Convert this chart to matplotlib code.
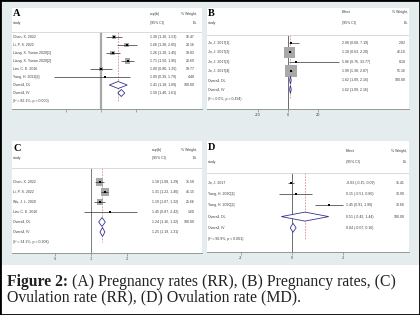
import numpy as np
import matplotlib
matplotlib.use("Agg")
import matplotlib.pyplot as plt
import matplotlib.transforms as mtransforms
from matplotlib.patches import Polygon, Rectangle
from matplotlib.ticker import NullLocator

# ---------------- data ----------------
A_studies = ["Chen, X. 2022", "Li, P. S. 2022", "Liang, X. Yunan 2020[1]",
             "Liang, X. Yunan 2020[2]", "Lim, C. E. 2016", "Yang, H. 2022[2]"]
A_est = [1.30, 1.68, 1.26, 1.71, 1.00, 1.09]
A_lo = [1.10, 1.38, 1.10, 1.50, 0.80, 0.39]
A_hi = [1.53, 2.05, 1.45, 1.95, 1.25, 1.79]
A_w = [16.47, 20.16, 19.83, 20.69, 18.77, 4.48]
A_dl = [1.41, 1.18, 1.69]
A_iv = [1.50, 1.40, 1.61]
A_het = "(I\u00b2 = 82.1%, p = 0.000)"

B_studies = ["Jo, J. 2017[1]", "Jo, J. 2017[2]", "Jo, J. 2017[3]", "Jo, J. 2017[4]"]
B_est = [2.08, 1.18, 5.06, 1.99]
B_lo = [0.60, 0.63, 0.76, 1.38]
B_hi = [7.19, 2.20, 33.77, 2.87]
B_w = [2.82, 46.10, 0.10, 51.16]
B_dl = [1.62, 1.09, 2.16]
B_iv = [1.62, 1.09, 2.16]
B_het = "(I\u00b2 = 0.0%, p = 0.494)"

C_studies = ["Chen, X. 2022", "Li, P. S. 2022", "Wu, J. L. 2020", "Lim, C. E. 2016"]
C_est = [1.18, 1.31, 1.19, 1.45]
C_lo = [1.08, 1.22, 1.07, 0.87]
C_hi = [1.29, 1.40, 1.32, 2.42]
C_w = [31.58, 41.15, 25.66, 1.60]
C_dl = [1.24, 1.16, 1.32]
C_iv = [1.25, 1.19, 1.31]
C_het = "(I\u00b2 = 34.1%, p = 0.208)"

D_studies = ["Jo, J. 2017", "Yang, H. 2020[1]", "Yang, H. 2020[2]"]
D_est = [-0.03, 0.15, 1.45]
D_lo = [-0.15, -0.51, 0.91]
D_hi = [0.09, 0.80, 1.99]
D_w = [36.41, 30.99, 32.60]
D_dl = [0.51, -0.42, 1.44]
D_iv = [0.04, -0.07, 0.16]
D_het = "(I\u00b2 = 90.9%, p < 0.001)"

A_ticks, A_ticklabels = [0.5, 1, 2], ["", "", ""]
B_ticks, B_ticklabels = [-20, 0, 20], ["-20", "0", "20"]
C_ticks, C_ticklabels = [0.5, 1, 2], [".5", "1", "2"]
D_ticks, D_ticklabels = [-2, 0, 2], ["-2", "0", "2"]

caption_bold = "Figure 2:"
caption_line1 = " (A) Pregnancy rates (RR), (B) Pregnancy rates, (C)"
caption_line2 = "Ovulation rate (RR), (D) Ovulation rate (MD)."

# ---------------- style ----------------
W, H = 420, 315
BG = "#e4ecee"
TXT = "#3a3a3a"
NAVY = "#33358f"
FS = 2.55
SANS = ["Liberation Sans", "DejaVu Sans"]

fig = plt.figure(figsize=(W / 100, H / 100), dpi=100, facecolor=BG)


def panel(letter, studies, est, lo, hi, w, dl, iv, het, ticks, ticklabels,
          box, log, null_px, k, est_hdr, y_letter, y_h1, y_h2, y_sep, y_first, dy,
          study_x, est_x, wt_x, box_c, null_color, null_lw, dhalf):
    x0, y0, x1, y1 = box
    ax = fig.add_axes([x0 / W, 1 - y1 / H, (x1 - x0) / W, (y1 - y0) / H])
    ax.set_facecolor("white")
    if log:
        ax.set_xscale("log")
        ax.set_xlim(np.exp((x0 - null_px) / k), np.exp((x1 - null_px) / k))
        ref = 1.0
    else:
        ax.set_xlim((x0 - null_px) / k, (x1 - null_px) / k)
        ref = 0.0
    ax.set_ylim(y1, y0)
    for s in ["top", "left", "right"]:
        ax.spines[s].set_visible(False)
    ax.spines["bottom"].set_color("#8a8a8a")
    ax.spines["bottom"].set_linewidth(0.6)
    ax.set_yticks([])
    ax.set_xticks(ticks)
    ax.set_xticklabels(ticklabels)
    ax.xaxis.set_minor_locator(NullLocator())
    ax.tick_params(axis="x", length=2, width=0.5, pad=1.2, labelsize=FS,
                   colors="#8a8a8a", labelcolor=TXT)

    n = len(studies)
    ys = y_first + dy * np.arange(n + 3)

    # separator, null line, overall line
    ax.axhline(y_sep, color="#d4d4d4", lw=0.6)
    ax.vlines(ref, y_sep, y1, color=null_color, lw=null_lw, zorder=1)
    ax.vlines(dl[0], y_sep, ys[n + 2], color="#d98c8c", lw=0.6,
              linestyles=(0, (2, 1.5)), zorder=1)

    # study boxes, CI lines, markers
    if box_c > 0:
        sizes = [(box_c * np.sqrt(v) * 0.72) ** 2 for v in w]
        ax.scatter(est, ys[:n], s=sizes, marker="s", color="#a8a8a8",
                   linewidths=0, zorder=2)
    ax.hlines(ys[:n], lo, hi, color="#303030", lw=0.5, zorder=3)
    ax.scatter(est, ys[:n], s=1.8, marker="s", color="black", linewidths=0, zorder=4)

    # diamonds
    for row, vals in ((n, dl), (n + 1, iv)):
        e, l, h = vals
        y = ys[row]
        poly = Polygon([(l, y), (e, y - dhalf), (h, y), (e, y + dhalf)], closed=True,
                       facecolor="white", edgecolor=NAVY, lw=0.6, zorder=5)
        ax.add_patch(poly)

    tr = mtransforms.blended_transform_factory(fig.transFigure, ax.transData)
    kw = dict(transform=tr, fontsize=FS, color=TXT, family=SANS, va="center")
    ax.text(study_x / W, y_letter, letter, transform=tr, fontsize=7.5,
            fontweight="bold", family=["Liberation Serif", "DejaVu Serif"],
            color="black", va="center")
    ax.text(study_x / W, y_h2, "study", **kw)
    ax.text(est_x / W, y_h1, est_hdr, **kw)
    ax.text(est_x / W, y_h2, "(95% CI)", **kw)
    ax.text(wt_x / W, y_h1, "% Weight,", ha="right", **kw)
    ax.text(wt_x / W, y_h2, "DL", ha="right", **kw)
    labels = list(studies) + ["Overall, DL", "Overall, IV"]
    ests = list(zip(est, lo, hi)) + [tuple(dl), tuple(iv)]
    weights = list(w) + [100.0]
    for i, lab in enumerate(labels):
        ax.text(study_x / W, ys[i], lab, **kw)
        e, l, h = ests[i]
        ax.text(est_x / W, ys[i], f"{e:.2f} ({l:.2f}, {h:.2f})", **kw)
        if i < len(weights):
            ax.text((wt_x - 2) / W, ys[i], f"{weights[i]:.2f}", ha="right", **kw)
    ax.text(study_x / W, ys[n + 2], het, **kw)
    return ax


panel("A", A_studies, A_est, A_lo, A_hi, A_w, A_dl, A_iv, A_het, A_ticks, A_ticklabels,
      (12, 8, 202, 109), True, 101, 50, "exp(b)", 14, 14, 23, 32, 37, 8,
      13, 150, 197, 1.1, "#a8a8a8", 1.6, 3.5)
panel("B", B_studies, B_est, B_lo, B_hi, B_w, B_dl, B_iv, B_het, B_ticks, B_ticklabels,
      (207, 8, 409, 109), False, 288, 1.5, "Effect", 13, 12, 23, 35, 43, 9.3,
      208, 342, 408, 1.62, "#555555", 0.6, 4)
panel("C", C_studies, C_est, C_lo, C_hi, C_w, C_dl, C_iv, C_het, C_ticks, C_ticklabels,
      (12, 141, 202, 253), True, 91, 51.5, "exp(b)", 148, 150, 158, 168, 182, 10,
      13, 152, 197, 1.3, "#666666", 0.6, 4.5)
panel("D", D_studies, D_est, D_lo, D_hi, D_w, D_dl, D_iv, D_het, D_ticks, D_ticklabels,
      (207, 141, 409, 252), False, 292, 25.5, "Effect", 147, 151, 162, 173, 183, 11.2,
      208, 346, 407, 0, "#555555", 0.6, 4.5)

# ---------------- caption ----------------
fig.patches.append(Rectangle((0, 0), 1, (H - 265) / H, transform=fig.transFigure,
                             facecolor="white", edgecolor="none", zorder=0.5))
serif = ["Liberation Serif", "DejaVu Serif"]
r = fig.canvas.get_renderer()
fs0 = 10.0
tb = fig.text(7 / W, 1 - 286 / H, caption_bold, fontsize=fs0, fontweight="bold",
              family=serif, va="baseline", color="#222222")
t1 = fig.text(0, 1 - 286 / H, caption_line1, fontsize=fs0, family=serif,
              va="baseline", color="#222222")
wb = tb.get_window_extent(r).width
w1 = t1.get_window_extent(r).width
fs = fs0 * 391.0 / (wb + w1)
tb.set_fontsize(fs)
t1.set_fontsize(fs)
wb = tb.get_window_extent(r).width
t1.set_x((7 + wb) / W)
fig.text(7 / W, 1 - 301 / H, caption_line2, fontsize=fs, family=serif,
         va="baseline", color="#222222")

fig.patches.append(Rectangle((0, 0), 1, 1, transform=fig.transFigure, fill=False,
                             edgecolor="black", lw=2, zorder=10))

fig.savefig("out.png", dpi=100, facecolor=BG)
